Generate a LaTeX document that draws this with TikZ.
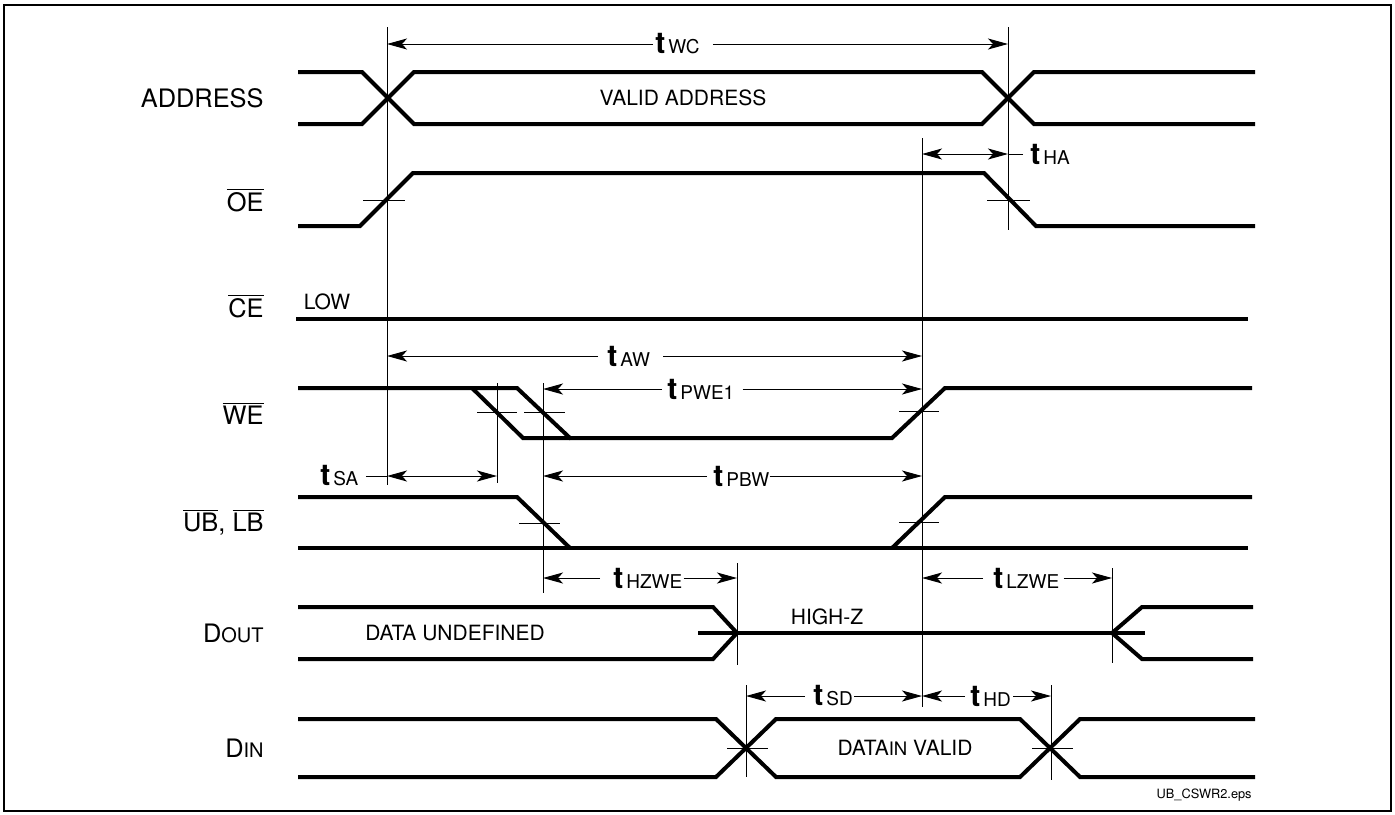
\documentclass[tikz,border=0pt]{standalone}
\usepackage{fontspec}
\setmainfont{TeX Gyre Heros}
\usetikzlibrary{arrows.meta}
\newcommand\tsub[1]{{\fontsize{15}{15}\selectfont\bfseries t}\hspace{1.5pt}{\fontsize{9.5}{9.5}\selectfont #1}}
\newcommand\ovl[1]{$\overline{\mbox{#1}}$}
\tikzset{
  myarr/.tip={Stealth[length=10pt,width=5.5pt,inset=2.5pt]},
  sig/.style={line width=2pt, line join=miter},
  thinln/.style={line width=0.5pt},
  dimln/.style={line width=0.5pt},
  lab/.style={anchor=east, inner sep=0pt, font=\fontsize{12.7}{14}\selectfont},
  txt/.style={inner sep=0pt, font=\fontsize{10.5}{12}\selectfont},
  tlab/.style={anchor=west, inner sep=0pt},
}
\begin{document}
\begin{tikzpicture}[x=0.5pt,y=-0.5pt]
\useasboundingbox (0,0) rectangle (1395,814);
\draw[line width=1.2pt] (4,5) rectangle (1391,811);

% left labels
\node[lab] (lAddr) at (264,98) {ADDRESS};
\node[lab] (lOE) at (264,200) {\ovl{OE}};
\node[lab] (lCE) at (264,306) {\ovl{CE}};
\node[lab] (lWE) at (264,413) {\ovl{WE}};
\node[lab] (lUB) at (264,522) {\ovl{UB}, \ovl{LB}};
\node[lab] (lDout) at (264,633) {D{\fontsize{10}{12}\selectfont OUT}};
\node[lab] (lDin) at (264,748) {D{\fontsize{10}{12}\selectfont IN}};

% signals
% ADDRESS
\draw[sig] (298,72) -- (362,72) -- (414,124) -- (982,124) -- (1034,72) -- (1255,72);
\draw[sig] (298,124) -- (362,124) -- (414,72) -- (982,72) -- (1034,124) -- (1255,124);
\node[txt] (tVA) at (683,98) {VALID ADDRESS};
% OE
\draw[sig] (298,226) -- (360,226) -- (413,173) -- (984,173) -- (1036,226) -- (1255,226);
% CE
\draw[sig] (296,319) -- (1248,319);
\node[txt] (tLow) at (327,302) {LOW};
% WE
\draw[sig] (298,388) -- (517,388) -- (570,438) -- (892,438) -- (945,388) -- (1252,388);
\draw[sig] (472,388) -- (523,438) -- (570,438);
% UB LB
\draw[sig] (298,497) -- (517,497) -- (570,548);
\draw[sig] (298,548) -- (1248,548);
\draw[sig] (892,548) -- (945,497) -- (1252,497);
% DOUT
\draw[sig] (298,607) -- (713,607) -- (737,633) -- (713,659) -- (298,659);
\draw[sig] (698,633) -- (1145,633);
\draw[sig] (1253,607) -- (1142,607) -- (1112,633) -- (1142,659) -- (1253,659);
\node[txt] (tDU) at (455,633) {DATA UNDEFINED};
\node[txt] (tHZ) at (827,617) {HIGH-Z};
% DIN
\draw[sig] (298,719) -- (716,719) -- (776,777) -- (1020,777) -- (1080,719) -- (1255,719);
\draw[sig] (298,777) -- (716,777) -- (776,719) -- (1020,719) -- (1080,777) -- (1255,777);
\node[txt] (tDV) at (905,748) {DATA{\fontsize{9.3}{10}\selectfont IN} VALID};

% vertical reference lines
\draw[thinln] (387,27) -- (387,485);
\draw[thinln] (1008,27) -- (1008,230);
\draw[thinln] (922,138) -- (922,707);
\draw[thinln] (497,383) -- (497,483);
\draw[thinln] (543,383) -- (543,593);
\draw[thinln] (737,563) -- (737,665);
\draw[thinln] (1112,568) -- (1112,663);
\draw[thinln] (746,685) -- (746,777);
\draw[thinln] (1051,685) -- (1051,780);

% ticks
\draw[thinln] (363,200) -- (405,200);
\draw[thinln] (987,200) -- (1030,200);
\draw[thinln] (477,412) -- (517,412);
\draw[thinln] (524,412) -- (565,412);
\draw[thinln] (899,411) -- (939,411);
\draw[thinln] (519,523) -- (560,523);
\draw[thinln] (899,522) -- (939,522);
\draw[thinln] (727,748) -- (768,748);
\draw[thinln] (1032,748) -- (1073,748);

% dimension lines
\node[tlab] (twc) at (655,44) {\tsub{WC}};
\draw[dimln,-myarr] ([xshift=-1pt]twc.west) -- (387,44);
\draw[dimln,-myarr] ([xshift=6.5pt]twc.east) -- (1008,44);

\node[tlab] (tha) at (1030,154) {\tsub{HA}};
\draw[dimln] ([xshift=-3.5pt]tha.west) -- (1008,154);
\draw[dimln,myarr-myarr] (922,154) -- (1008,154);

\node[tlab] (taw) at (607,356) {\tsub{AW}};
\draw[dimln,-myarr] ([xshift=-4.5pt]taw.west) -- (387,356);
\draw[dimln,-myarr] ([xshift=6.5pt]taw.east) -- (922,356);

\node[tlab] (tpwe) at (667,389) {\tsub{PWE1}};
\draw[dimln,-myarr] ([xshift=-2.5pt]tpwe.west) -- (543,389);
\draw[dimln,-myarr] ([xshift=4pt]tpwe.east) -- (922,389);

\node[tlab] (tsa) at (320,476) {\tsub{SA}};
\draw[dimln] ([xshift=3.5pt]tsa.east) -- (387,476);
\draw[dimln,myarr-myarr] (387,476) -- (497,476);

\node[tlab] (tpbw) at (713,476) {\tsub{PBW}};
\draw[dimln,-myarr] ([xshift=-3pt]tpbw.west) -- (543,476);
\draw[dimln,-myarr] (tpbw.east) -- (922,476);

\node[tlab] (thz) at (613,578) {\tsub{HZWE}};
\draw[dimln,-myarr] ([xshift=-6.5pt]thz.west) -- (543,578);
\draw[dimln,-myarr] ([xshift=0.5pt]thz.east) -- (737,578);

\node[tlab] (tlz) at (993,578) {\tsub{LZWE}};
\draw[dimln,-myarr] ([xshift=-5pt]tlz.west) -- (922,578);
\draw[dimln,-myarr] ([xshift=2pt]tlz.east) -- (1112,578);

\node[tlab] (tsd) at (813,696) {\tsub{SD}};
\draw[dimln,-myarr] ([xshift=-4pt]tsd.west) -- (746,696);
\draw[dimln,-myarr] ([xshift=0.5pt]tsd.east) -- (922,696);

\node[tlab] (thd) at (970,696) {\tsub{HD}};
\draw[dimln,-myarr] ([xshift=-2.5pt]thd.west) -- (922,696);
\draw[dimln,-myarr] ([xshift=1pt]thd.east) -- (1051,696);

\node[anchor=east, inner sep=0pt, font=\fontsize{6.4}{7}\selectfont] (fname) at (1252,795) {UB\_CSWR2.eps};
\end{tikzpicture}
\end{document}
